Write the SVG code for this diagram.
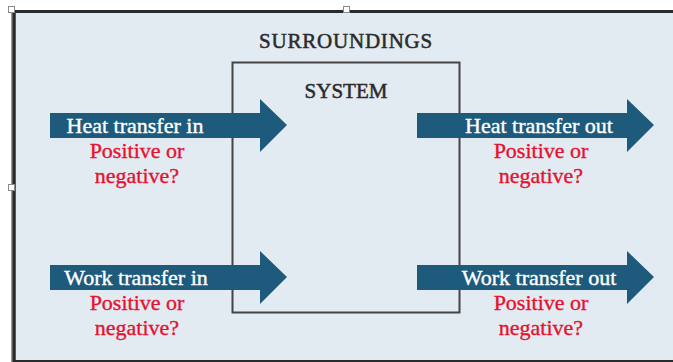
<svg xmlns="http://www.w3.org/2000/svg" width="673" height="362" viewBox="0 0 673 362">
<defs>
<style>
.t{font-family:"Liberation Serif","Times New Roman",serif;}
.hd{font-size:21px;fill:#2b2b2b;stroke:#2b2b2b;stroke-width:0.5;text-anchor:middle;}
.lbl{font-size:22px;fill:#ffffff;stroke:#ffffff;stroke-width:0.4;text-anchor:middle;}
.q{font-size:22px;fill:#e8112d;stroke:#e8112d;stroke-width:0.35;text-anchor:middle;}
.arr{fill:#1e5a7b;}
.hdl{fill:#ffffff;stroke:#8a8a8a;stroke-width:1;}
</style>
<path id="arrowShape" d="M0,0 H210 V-14 L237,12 L210,39 V25 H0 Z"/>
</defs>
<rect x="0" y="0" width="673" height="362" fill="#ffffff"/>
<g id="surroundings">
<rect x="14" y="11.5" width="665" height="360" fill="#e2eaf2"/>
<line x1="11" y1="11.5" x2="673" y2="11.5" stroke="#2a2a2a" stroke-width="3"/>
<line x1="14" y1="10" x2="14" y2="362" stroke="#2a2a2a" stroke-width="3.5"/>
<line x1="11.5" y1="10" x2="11.5" y2="362" stroke="#9a9a9a" stroke-width="1"/>
<line x1="14" y1="361" x2="673" y2="361" stroke="#2a2a2a" stroke-width="2"/>
<text class="t hd" x="346" y="48" letter-spacing="0.8">SURROUNDINGS</text>
</g>
<g id="system">
<rect x="232.5" y="62.5" width="227" height="250" fill="none" stroke="#444444" stroke-width="2"/>
<text class="t hd" x="346" y="98">SYSTEM</text>
</g>
<g id="connectors">
<use href="#arrowShape" class="arr" x="50" y="113"/>
<use href="#arrowShape" class="arr" x="417" y="113"/>
<use href="#arrowShape" class="arr" x="50" y="265"/>
<use href="#arrowShape" class="arr" x="417" y="265"/>
</g>
<g id="heat-in">
<text class="t lbl" x="135" y="133">Heat transfer in</text>
<text class="t q" x="137" y="158">Positive or</text>
<text class="t q" x="137" y="183">negative?</text>
</g>
<g id="heat-out">
<text class="t lbl" x="539" y="133">Heat transfer out</text>
<text class="t q" x="541" y="158">Positive or</text>
<text class="t q" x="541" y="183">negative?</text>
</g>
<g id="work-in">
<text class="t lbl" x="136" y="285">Work transfer in</text>
<text class="t q" x="137" y="310">Positive or</text>
<text class="t q" x="137" y="335">negative?</text>
</g>
<g id="work-out">
<text class="t lbl" x="539" y="285">Work transfer out</text>
<text class="t q" x="541" y="310">Positive or</text>
<text class="t q" x="541" y="335">negative?</text>
</g>
<g id="handles">
<rect class="hdl" x="8.5" y="6.5" width="6" height="6"/>
<rect class="hdl" x="343.5" y="6.5" width="6" height="6"/>
<rect class="hdl" x="8.5" y="184.5" width="6" height="6"/>
</g>
</svg>
